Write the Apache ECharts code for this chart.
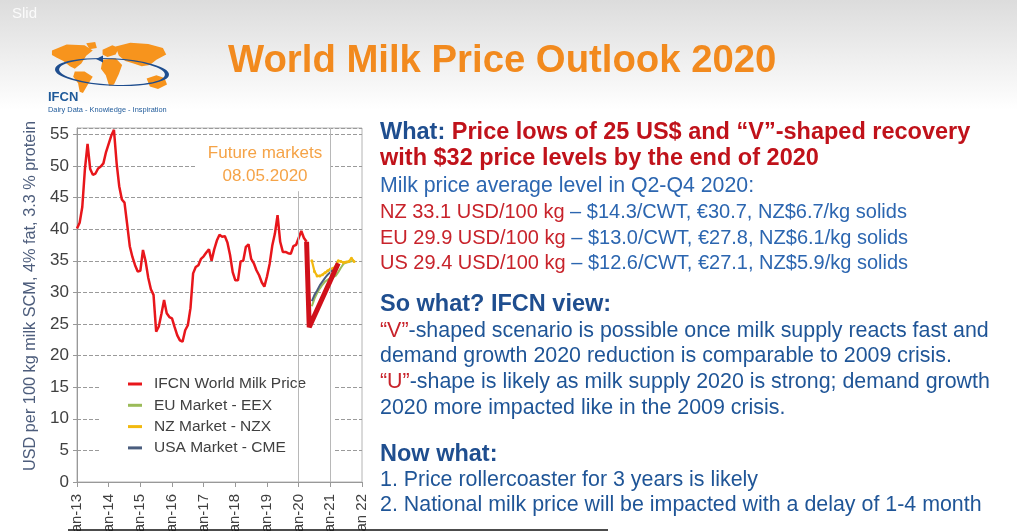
<!DOCTYPE html>
<html>
<head>
<meta charset="UTF-8">
<title>World Milk Price Outlook 2020</title>
<script src="https://cdn.jsdelivr.net/npm/echarts@6/dist/echarts.min.js"></script>
<style>
html, body { margin: 0; padding: 0; background: #fff; }
#chart { width: 1017px; height: 531px; }
</style>
</head>
<body>
<div id="chart"></div>
<script>
// IFCN world milk price, monthly from Jan-13 (USD per 100 kg)
const ifcnStart = [2013, 1];
const ifcnPrice = [
    40.1, 41.0, 43.5, 49.5, 53.5, 49.5, 48.6, 48.8, 49.6, 49.9, 50.4, 52.2,
    53.5, 54.8, 55.7, 50.5, 46.8, 44.7, 44.2, 40.8, 37.3, 35.6, 34.3, 33.3,
    33.4, 36.7, 34.9, 32.3, 30.5, 29.6, 23.8, 24.6, 26.6, 28.8, 26.7, 26.1,
    25.9, 24.5, 23.2, 22.4, 22.2, 24.0, 24.8, 27.5, 33.0, 34.0, 34.3, 35.3,
    35.7, 36.3, 36.8, 35.0, 36.8, 38.2, 39.1, 38.8, 38.9, 37.9, 35.9, 33.2,
    31.9, 31.9, 34.9, 35.0, 37.2, 37.6, 35.3, 34.6, 33.5, 32.7, 31.6, 30.9,
    32.5, 34.5, 37.4, 39.3, 42.2, 38.0, 36.4, 36.4, 36.2, 36.1, 37.3, 37.5,
    38.6, 39.7, 38.6, 38.0
];

// future markets (08.05.2020), monthly from Jun-20
const futuresStart = [2020, 6];
const euMarket = [27.8, 29.0, 29.9, 30.6, 31.2, 31.7, 32.0, 32.2, 32.4, 32.6, 33.2, 33.9, 34.5, 34.7, 34.8, 34.9, 35.1];
const nzMarket = [35.0, 33.3, 32.6, 32.6, 32.8, 33.1, 33.4, 33.7, 33.8, 34.1, 35.0, 34.9, 34.7, 34.8, 34.9, 35.4, 34.9];
const usMarket = [28.6, 29.6, 30.3, 31.1, 31.7, 32.3, 32.8, 33.2, 33.6, 33.9, 34.2];

// IFCN "V"-shaped outlook
const outlookMonths = [[2020, 4], [2020, 5], [2021, 4]];
const outlookPrice = [38.0, 24.5, 34.6];

const yearLabels = ['Jan-13', 'Jan-14', 'Jan-15', 'Jan-16', 'Jan-17', 'Jan-18', 'Jan-19', 'Jan-20', 'Jan-21', 'Jan 22'];

const FONT = '"Liberation Sans", Arial, sans-serif';

function monthX(start, i) {
    return start[0] + (start[1] - 1 + i) / 12;
}
function monthly(start, values) {
    return values.map((v, i) => [monthX(start, i), v]);
}

const headBlue = '#1f4e8f';
const bodyBlue = '#2c66b0';
const paraBlue = '#1f5597';
const darkRed = '#c0121a';
const red = '#c8232b';

function textLine(y, text) {
    return {
        type: 'text', x: 380, y: y, z: 10,
        style: { text: text, rich: rich, verticalAlign: 'middle', fill: bodyBlue, font: '20px ' + FONT }
    };
}
const rich = {
    h: { fill: headBlue, fontSize: 23.5, fontWeight: 'bold', fontFamily: FONT },
    r: { fill: darkRed, fontSize: 23.5, fontWeight: 'bold', fontFamily: FONT },
    n: { fill: red, fontSize: 20, fontFamily: FONT },
    b: { fill: bodyBlue, fontSize: 20, fontFamily: FONT },
    m: { fill: bodyBlue, fontSize: 21.3, fontFamily: FONT },
    q: { fill: red, fontSize: 21.4, fontFamily: FONT },
    d: { fill: paraBlue, fontSize: 21.4, fontFamily: FONT }
};

const orange = '#f7941d';
const continents = [
    [[22,24],[40,15],[62,16],[72,24],[64,32],[58,44],[50,52],[44,48],[36,40],[28,35],[22,31]],
    [[64,13],[75,11],[77,20],[68,22]],
    [[50,56],[62,56],[72,64],[66,76],[60,89],[56,87],[54,74],[48,64]],
    [[84,23],[96,16],[104,20],[100,30],[90,34],[84,30]],
    [[84,38],[100,36],[108,46],[104,60],[98,76],[92,78],[88,62],[82,52]],
    [[100,18],[118,12],[140,14],[158,20],[162,30],[150,38],[142,46],[132,48],[122,44],[112,40],[104,32]],
    [[138,67],[150,62],[160,66],[163,76],[152,83],[142,79]]
].map(p => ({ type: 'polygon', shape: { points: p }, style: { fill: orange } }));

const chart = echarts.init(document.getElementById('chart'));
chart.setOption({
    animation: false,
    backgroundColor: '#fff',
    title: {
        text: 'World Milk Price Outlook 2020',
        left: 223, top: 37,
        textStyle: { fontSize: 38.3, fontWeight: 'bold', color: '#f28a1e', fontFamily: FONT }
    },
    grid: {
        left: 77, right: 655, top: 128, bottom: 49,
        containLabel: false, outerBoundsMode: 'none',
        show: true, borderColor: '#b4b4b4', borderWidth: 1
    },
    legend: {
        orient: 'vertical', left: 100, top: 372, z: 1,
        backgroundColor: '#fff', padding: [4, 28, 4, 28],
        itemWidth: 14, itemHeight: 3, itemGap: 5.3, icon: 'rect',
        textStyle: { fontSize: 15.5, color: '#404040', fontFamily: FONT, padding: [0, 0, 0, 7], lineHeight: 16 },
        data: ['IFCN World Milk Price', 'EU Market - EEX', 'NZ Market - NZX', 'USA Market - CME']
    },
    xAxis: {
        type: 'value', min: 2013, max: 2022, interval: 1,
        axisLine: { lineStyle: { color: '#999' } },
        axisTick: { show: true, length: 5, lineStyle: { color: '#999' } },
        splitLine: { show: false },
        axisLabel: {
            rotate: 90, margin: 12, fontSize: 15, color: '#404040', fontFamily: FONT,
            hideOverlap: false, showMinLabel: true, showMaxLabel: true,
            formatter: v => yearLabels[Math.round(v - 2013)]
        }
    },
    yAxis: {
        type: 'value', min: 0, max: 56, interval: 5,
        name: 'USD per 100 kg milk SCM, 4% fat, 3.3 % protein',
        nameLocation: 'middle', nameGap: 38,
        nameTextStyle: { fontSize: 16.3, color: '#4d5d7c', fontFamily: FONT, padding: [0, 0, 0, 18] },
        axisLine: { show: true, lineStyle: { color: '#999' } },
        axisTick: { show: true, length: 4, lineStyle: { color: '#999' } },
        axisLabel: { fontSize: 17, color: '#404040', fontFamily: FONT, margin: 8, showMaxLabel: false },
        splitLine: { lineStyle: { color: '#9a9a9a', type: [4, 2], width: 1 } }
    },
    series: [
        {
            name: 'IFCN World Milk Price', type: 'line', symbol: 'none', z: 3,
            color: '#e8161b', lineStyle: { width: 2.5 },
            data: monthly(ifcnStart, ifcnPrice),
            markLine: {
                silent: true, symbol: 'none', label: { show: false },
                lineStyle: { color: '#b8b8b8', type: 'solid', width: 1 },
                data: [
                    [{ coord: [2020, 0] }, { coord: [2020, 46] }],
                    [{ coord: [2021, 0] }, { coord: [2021, 56] }]
                ]
            }
        },
        {
            name: 'EU Market - EEX', type: 'line', symbol: 'none', z: 2,
            color: '#9bbb59', lineStyle: { width: 2 },
            data: monthly(futuresStart, euMarket)
        },
        {
            name: 'NZ Market - NZX', type: 'line', symbol: 'circle', symbolSize: 3, z: 2,
            color: '#f2b90f', lineStyle: { width: 2.2 },
            data: monthly(futuresStart, nzMarket)
        },
        {
            name: 'USA Market - CME', type: 'line', symbol: 'none', z: 2,
            color: '#4a5d7e', lineStyle: { width: 2 },
            data: monthly(futuresStart, usMarket)
        },
        {
            name: 'IFCN outlook', type: 'line', symbol: 'none', z: 5,
            color: '#d0101a', lineStyle: { width: 5 },
            data: outlookMonths.map((m, i) => [monthX(m, 0), outlookPrice[i]])
        }
    ],
    graphic: [
        {
            type: 'rect', z: -10, shape: { x: 0, y: 0, width: 1017, height: 110 },
            style: { fill: { type: 'linear', x: 0, y: 0, x2: 0, y2: 1, colorStops: [{ offset: 0, color: '#dcdcdc' }, { offset: 1, color: '#ffffff' }] } }
        },
        { type: 'text', x: 12, y: 14, z: 1, style: { text: 'Slid', fill: 'rgba(255,255,255,0.85)', font: '15px ' + FONT, verticalAlign: 'middle' } },
        // IFCN logo
        { type: 'group', x: 34, y: 34.8, scaleX: 0.816, scaleY: 0.654, z: 1, children: continents },
        {
            type: 'circle', x: 112, y: 72, z: 2, scaleY: 0.24, rotation: -0.05,
            shape: { cx: 0, cy: 0, r: 55 },
            style: { fill: 'none', stroke: '#1f4e8f', lineWidth: 2, strokeNoScale: true }
        },
        { type: 'polygon', z: 2, shape: { points: [[96, 59], [103, 55.5], [103, 62.5]] }, style: { fill: '#1f4e8f' } },
        { type: 'text', x: 48, y: 97, z: 2, style: { text: 'IFCN', fill: '#1f5a9a', font: 'bold 13px ' + FONT, verticalAlign: 'middle' } },
        { type: 'text', x: 48, y: 110, z: 2, style: { text: 'Dairy Data - Knowledge - Inspiration', fill: '#1f5a9a', font: '7.4px ' + FONT, verticalAlign: 'middle' } },
        // future markets note
        { type: 'rect', z: 1, shape: { x: 195, y: 140, width: 135, height: 50 }, style: { fill: '#fff' } },
        { type: 'text', x: 265, y: 153, z: 10, style: { text: 'Future markets', fill: '#f5a347', font: '17px ' + FONT, align: 'center', verticalAlign: 'middle' } },
        { type: 'text', x: 265, y: 176, z: 10, style: { text: '08.05.2020', fill: '#f5a347', font: '17px ' + FONT, align: 'center', verticalAlign: 'middle' } },
        // right-hand text
        textLine(133, '{h|What: }{r|Price lows of 25 US$ and “V”-shaped recovery}'),
        textLine(159, '{r|with $32 price levels by the end of 2020}'),
        textLine(186, '{m|Milk price average level in Q2-Q4 2020:}'),
        textLine(212, '{n|NZ 33.1 USD/100 kg }{b|– $14.3/CWT, €30.7, NZ$6.7/kg solids}'),
        textLine(238, '{n|EU 29.9 USD/100 kg }{b|– $13.0/CWT, €27.8, NZ$6.1/kg solids}'),
        textLine(263, '{n|US 29.4 USD/100 kg }{b|– $12.6/CWT, €27.1, NZ$5.9/kg solids}'),
        textLine(305, '{h|So what? IFCN view:}'),
        textLine(331, '{q|“V”}{d|-shaped scenario is possible once milk supply reacts fast and}'),
        textLine(356, '{d|demand growth 2020 reduction is comparable to 2009 crisis.}'),
        textLine(382, '{q|“U”}{d|-shape is likely as milk supply 2020 is strong; demand growth}'),
        textLine(408, '{d|2020 more impacted like in the 2009 crisis.}'),
        textLine(455, '{h|Now what:}'),
        textLine(480, '{d|1. Price rollercoaster for 3 years is likely}'),
        textLine(505, '{d|2. National milk price will be impacted with a delay of 1-4 month}'),
        { type: 'line', z: 10, shape: { x1: 68, y1: 530, x2: 608, y2: 530 }, style: { stroke: '#111', lineWidth: 1.5 } }
    ]
});
</script>
</body>
</html>
